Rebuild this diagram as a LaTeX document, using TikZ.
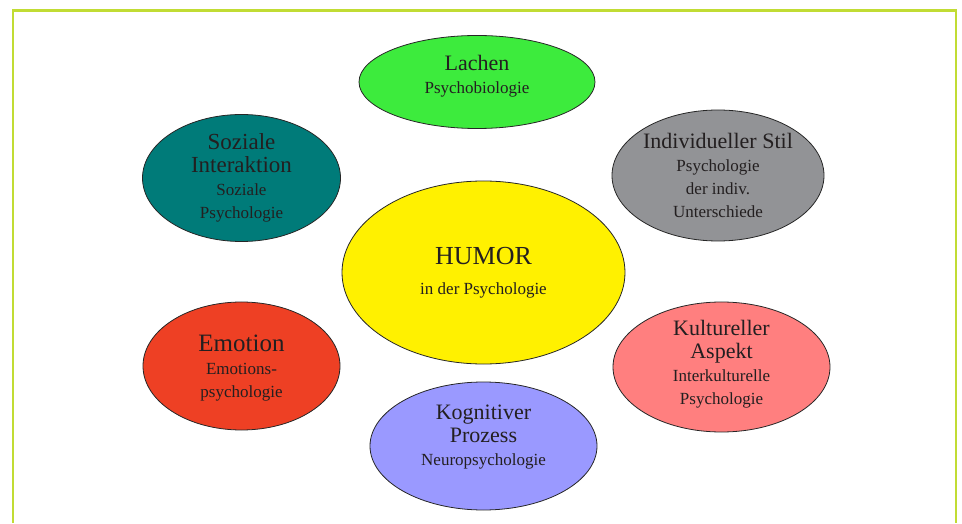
\documentclass[tikz,border=0pt]{standalone}
\usepackage{fontspec}
\setmainfont{Liberation Serif}
\usepackage{xcolor}
\usepackage{tikz}
\usetikzlibrary{shapes.geometric,calc}
\definecolor{frame}{HTML}{C1DC34}
\definecolor{ink}{HTML}{231F20}
\definecolor{laugh}{HTML}{3DEB3D}
\definecolor{social}{HTML}{007B79}
\definecolor{style}{HTML}{929396}
\definecolor{humor}{HTML}{FFF100}
\definecolor{emotion}{HTML}{EE4024}
\definecolor{culture}{HTML}{FF7F7F}
\definecolor{cognit}{HTML}{9A99FF}
\newcommand\subtxt{\fontsize{17}{21}\selectfont}

\begin{document}
\begin{tikzpicture}[
  x=1pt,y=1pt,
  every node/.style={text=ink,align=center,inner sep=0pt},
  oval/.style={ellipse,draw=black!85,line width=0.8pt},
  label/.style={font=\fontsize{22}{23}\selectfont},
  border/.style={draw=frame,line width=2.8pt}
]
\useasboundingbox (0,0) rectangle (962,523);
\draw[border] (13,0) -- (13,512.5) -- (956,512.5) -- (956,0);
\node[oval,fill=laugh,minimum width=236,minimum height=93] (lachen) at (477,441) {};
\node[oval,fill=social,minimum width=198,minimum height=127] (sozial) at (241.5,345) {};
\node[oval,fill=style,minimum width=212,minimum height=131] (indiv) at (718,347.5) {};
\node[oval,fill=humor,minimum width=283,minimum height=183] (humor) at (483.5,250.5) {};
\node[oval,fill=emotion,minimum width=197,minimum height=128] (emotion) at (241.5,157) {};
\node[oval,fill=culture,minimum width=217,minimum height=130] (kultur) at (721.5,156) {};
\node[oval,fill=cognit,minimum width=227,minimum height=128] (kogn) at (483.5,77) {};
\node[label] (lachen-t) at ([yshift=6]lachen.center) {Lachen\\{\subtxt Psychobiologie}};
\node[label,font=\fontsize{23}{23}\selectfont] (sozial-t) at (sozial.center) {Soziale\\Interaktion\\{\subtxt Soziale}\\{\subtxt Psychologie}};
\node[label] (indiv-t) at (indiv.center) {Individueller Stil\\{\subtxt Psychologie}\\{\subtxt der indiv.}\\{\subtxt Unterschiede}};
\node[label,font=\fontsize{26}{22}\selectfont] (humor-t) at (humor.center) {HUMOR\\[8pt]{\subtxt in der Psychologie}};
\node[label,font=\fontsize{25}{23}\selectfont] (emotion-t) at ([yshift=-2]emotion.center) {Emotion\\{\subtxt Emotions-}\\{\subtxt psychologie}};
\node[label] (kultur-t) at ([yshift=3]kultur.center) {Kultureller\\Aspekt\\{\subtxt Interkulturelle}\\{\subtxt Psychologie}};
\node[label] (kogn-t) at ([yshift=9]kogn.center) {Kognitiver\\Prozess\\{\subtxt Neuropsychologie}};
\end{tikzpicture}
\end{document}
